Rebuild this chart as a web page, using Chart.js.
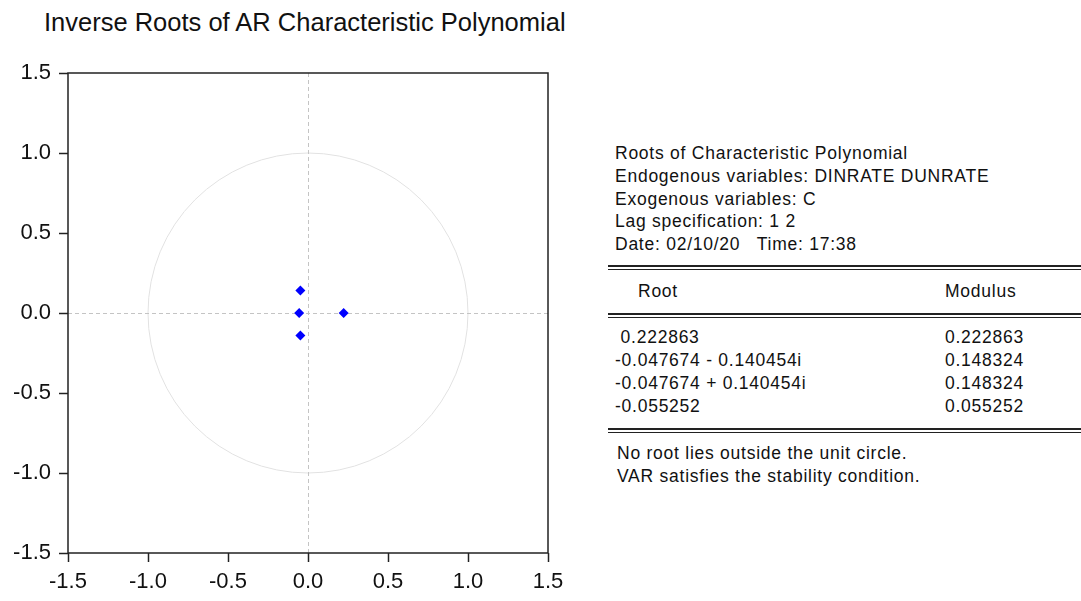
<!DOCTYPE html>
<html>
<head>
<meta charset="utf-8">
<script src="https://cdn.jsdelivr.net/npm/chart.js@4/dist/chart.umd.min.js"></script>
<style>
  html, body { margin: 0; padding: 0; background: #fff; }
  body { width: 1081px; height: 601px; position: relative; overflow: hidden;
         font-family: "Liberation Sans", Arial, sans-serif; color: #111; }
  #title { position: absolute; left: 44px; top: 8px; font-size: 25.5px; white-space: nowrap; line-height: normal; }
  #wrap { position: absolute; left: 0; top: 0; width: 600px; height: 601px; }
  .t { position: absolute; font-size: 17.5px; letter-spacing: 0.75px; white-space: pre; line-height: 20px; }
  .dl { position: absolute; left: 608px; width: 473px; height: 2px;
        border-top: 2px solid #222; border-bottom: 1px solid #222; }
</style>
</head>
<body>
<div id="title">Inverse Roots of AR Characteristic Polynomial</div>
<div id="wrap"><canvas id="c" width="600" height="601"></canvas></div>
<div id="info"></div>
<script>
// ---- data ----
const rootReal = [0.222863, -0.047674, -0.047674, -0.055252];
const rootImag = [0, -0.140454, 0.140454, 0];
const rootLabels = [" 0.222863", "-0.047674 - 0.140454i", "-0.047674 + 0.140454i", "-0.055252"];
const moduli = ["0.222863", "0.148324", "0.148324", "0.055252"];
const tickValues = [-1.5, -1.0, -0.5, 0.0, 0.5, 1.0, 1.5];
const headerLines = [
  "Roots of Characteristic Polynomial",
  "Endogenous variables: DINRATE DUNRATE",
  "Exogenous variables: C",
  "Lag specification: 1 2",
  "Date: 02/10/20   Time: 17:38"
];
const footerLines = [
  "No root lies outside the unit circle.",
  "VAR satisfies the stability condition."
];

// ---- right-hand text table ----
const info = document.getElementById('info');
function addText(txt, x, yc) {
  const d = document.createElement('div');
  d.className = 't';
  d.style.left = x + 'px';
  d.style.top = (yc - 10) + 'px';
  d.textContent = txt;
  info.appendChild(d);
}
function addDouble(y) {
  const d = document.createElement('div');
  d.className = 'dl';
  d.style.top = y + 'px';
  info.appendChild(d);
}
headerLines.forEach((s, i) => addText(s, 615, 153 + i * 22.8));
addDouble(265);
addText("Root", 638, 291);
addText("Modulus", 945, 291);
addDouble(313);
rootLabels.forEach((s, i) => addText(s, 615, 337 + i * 23));
moduli.forEach((s, i) => addText(s, 945, 337 + i * 23));
addDouble(428);
footerLines.forEach((s, i) => addText(s, 617, 453 + i * 22.5));

// ---- chart ----
const pts = rootReal.map((x, i) => ({ x: x, y: rootImag[i] }));

const decor = {
  id: 'decor',
  beforeDatasetsDraw(chart) {
    const { ctx, chartArea: a, scales: { x, y } } = chart;
    const cx = x.getPixelForValue(0), cy = y.getPixelForValue(0);
    const r = x.getPixelForValue(1) - cx;
    ctx.save();
    ctx.strokeStyle = '#e2e2e2';
    ctx.lineWidth = 1;
    ctx.beginPath();
    ctx.arc(cx, cy, r, 0, Math.PI * 2);
    ctx.stroke();
    ctx.strokeStyle = '#c4c4c4';
    ctx.setLineDash([4, 3]);
    ctx.beginPath();
    ctx.moveTo(a.left, Math.round(cy) + 0.5); ctx.lineTo(a.right, Math.round(cy) + 0.5);
    ctx.moveTo(Math.round(cx) + 0.5, a.top); ctx.lineTo(Math.round(cx) + 0.5, a.bottom);
    ctx.stroke();
    ctx.restore();
  },
  afterDraw(chart) {
    const { ctx, chartArea: a } = chart;
    ctx.save();
    ctx.strokeStyle = '#222';
    ctx.lineWidth = 1.5;
    ctx.strokeRect(a.left, a.top, a.right - a.left, a.bottom - a.top);
    ctx.restore();
  }
};

const tickFont = { family: '"Liberation Sans", Arial, sans-serif', size: 22 };
function axis(pad, extra) {
  return Object.assign({
    type: 'linear', min: -1.5, max: 1.5,
    afterBuildTicks: s => { s.ticks = tickValues.map(v => ({ value: v })); },
    ticks: { font: tickFont, color: '#111', padding: pad, autoSkip: false, maxRotation: 0,
             callback: v => Number(v).toFixed(1) },
    grid: { drawOnChartArea: false, drawTicks: true, tickLength: 9, tickColor: '#222', tickWidth: 1.5 },
    border: { display: false }
  }, extra);
}

new Chart(document.getElementById('c'), {
  type: 'scatter',
  data: {
    datasets: [{
      data: pts,
      pointStyle: 'rectRot',
      pointRadius: 5,
      pointBackgroundColor: '#0000ff',
      pointBorderColor: '#0000ff',
      pointBorderWidth: 0
    }]
  },
  options: {
    responsive: false,
    animation: false,
    layout: { padding: { top: 73, right: 52, left: 0, bottom: 0 } },
    plugins: { legend: { display: false }, tooltip: { enabled: false }, title: { display: false } },
    scales: {
      x: axis(7, { position: 'bottom', afterFit: s => { s.height = 48; } }),
      y: axis(8, { position: 'left', afterFit: s => { s.width = 68; } })
    }
  },
  plugins: [decor]
});
</script>
</body>
</html>
